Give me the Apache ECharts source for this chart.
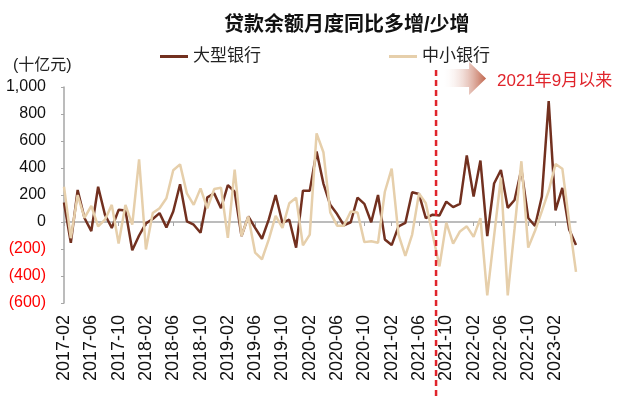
<!DOCTYPE html>
<html>
<head>
<meta charset="utf-8">
<script src="https://cdn.jsdelivr.net/npm/echarts@6/dist/echarts.min.js"></script>
<style>
  html, body { margin: 0; padding: 0; background: #fff; }
  #chart { width: 640px; height: 397px; }
</style>
</head>
<body>
<div id="chart"></div>
<script>
const months = [
  '2017-02','2017-03','2017-04','2017-05','2017-06','2017-07','2017-08','2017-09','2017-10','2017-11','2017-12',
  '2018-01','2018-02','2018-03','2018-04','2018-05','2018-06','2018-07','2018-08','2018-09','2018-10','2018-11','2018-12',
  '2019-01','2019-02','2019-03','2019-04','2019-05','2019-06','2019-07','2019-08','2019-09','2019-10','2019-11','2019-12',
  '2020-01','2020-02','2020-03','2020-04','2020-05','2020-06','2020-07','2020-08','2020-09','2020-10','2020-11','2020-12',
  '2021-01','2021-02','2021-03','2021-04','2021-05','2021-06','2021-07','2021-08','2021-09','2021-10','2021-11','2021-12',
  '2022-01','2022-02','2022-03','2022-04','2022-05','2022-06','2022-07','2022-08','2022-09','2022-10','2022-11','2022-12',
  '2023-01','2023-02','2023-03','2023-04','2023-05'
];

// 大型银行
const bigBanks = [
  144, -154, 237, 30, -68, 261, 54, -44, 90, 85, -210,
  -100, -10, 22, 66, -40, 78, 280, 5, -20, -80, 183, 212,
  102, 273, 224, -105, 41, -44, -124, 20, 200, -7, 17, -190,
  232, 232, 522, 285, 127, 59, -24, -2, 180, 134, -2, 200,
  -129, -171, -32, -7, 220, 207, 29, 54, 49, 151, 110, 134,
  493, 188, 455, -105, 285, 385, 105, 163, 390, 30, -30, 189,
  895, 86, 252, -55, -171
];

// 中小银行
const smallBanks = [
  261, -120, 200, 30, 120, -32, 17, 127, -159, 127, -20,
  464, -203, 66, 102, 176, 383, 427, 212, 127, 249, 102, 244,
  254, -117, 388, -105, 41, -227, -276, -129, 46, -44, 139, 180,
  -173, -93, 656, 517, 71, -27, -27, 78, 71, -149, -142, -154,
  224, 395, -93, -251, -93, 212, 139, -93, -329, -5, -160, -70,
  -32, -110, 29, -544, -105, 330, -544, -50, 450, -190, -65, 80,
  230, 430, 395, 0, -370
];

const yMin = -600, yMax = 1000, yStep = 200;
const sinceIdx = [54, 55]; // 2021年9月以来 的分界

const FONT = "'Liberation Sans', 'Noto Sans CJK SC', sans-serif";
const BROWN = '#72301f';
const TAN = '#e6cfab';
const AXIS = '#a6a6a6';
const RED = '#e0242b';

const chart = echarts.init(document.getElementById('chart'));

const option = {
  animation: false,
  textStyle: { fontFamily: FONT },
  title: {
    text: '贷款余额月度同比多增/少增',
    left: 219,
    top: 10,
    textStyle: { fontSize: 20, fontWeight: 'bold', color: '#111', fontFamily: FONT }
  },
  legend: {
    left: 155,
    top: 43,
    icon: 'rect',
    itemWidth: 28,
    itemHeight: 3,
    itemGap: 128,
    textStyle: { fontSize: 17, color: '#222' },
    data: ['大型银行', '中小银行']
  },
  grid: { left: 64, right: 64, top: 87, bottom: 94 },
  xAxis: [
    {
      type: 'category',
      data: months,
      boundaryGap: false,
      position: 'bottom',
      axisLine: { show: false, onZero: false },
      axisTick: { show: false },
      axisLabel: { interval: 3, rotate: 90, fontSize: 18, color: '#111', margin: 12 }
    },
    {
      type: 'category',
      data: months,
      boundaryGap: false,
      position: 'top',
      axisLine: { onZero: true, lineStyle: { color: AXIS, width: 1.5 } },
      axisTick: { show: true, inside: true, interval: 3, length: 4, lineStyle: { color: AXIS } },
      axisLabel: { show: false }
    }
  ],
  yAxis: {
    type: 'value',
    min: yMin,
    max: yMax,
    interval: yStep,
    axisLine: { show: true, lineStyle: { color: AXIS, width: 1.5 } },
    axisTick: { show: true, length: 3, lineStyle: { color: AXIS } },
    splitLine: { show: false },
    axisLabel: {
      fontSize: 16,
      margin: 18,
      color: function (v) { return v < 0 ? '#ff0000' : '#111'; },
      formatter: function (v) {
        const s = Math.abs(v).toLocaleString('en-US');
        return v < 0 ? '(' + s + ')' : s;
      }
    }
  },
  series: [
    {
      name: '大型银行',
      type: 'line',
      data: bigBanks,
      symbol: 'none',
      lineStyle: { color: BROWN, width: 2.5 },
      itemStyle: { color: BROWN }
    },
    {
      name: '中小银行',
      type: 'line',
      data: smallBanks,
      symbol: 'none',
      lineStyle: { color: TAN, width: 2.5 },
      itemStyle: { color: TAN }
    }
  ]
};

chart.setOption(option);

const xa = chart.convertToPixel({ xAxisIndex: 0 }, sinceIdx[0]);
const xb = chart.convertToPixel({ xAxisIndex: 0 }, sinceIdx[1]);
const lineX = (xa + xb) / 2;

chart.setOption({
  graphic: [
    {
      type: 'text',
      left: 13,
      top: 58,
      style: { text: '(十亿元)', fontSize: 16, fill: '#222', fontFamily: FONT }
    },
    {
      type: 'line',
      z: 10,
      shape: { x1: lineX, y1: 70, x2: lineX, y2: 397 },
      style: { stroke: RED, lineWidth: 2.5, lineDash: [6, 4] }
    },
    {
      type: 'polygon',
      z: 10,
      shape: {
        points: [
          [lineX + 6, 69], [lineX + 33, 69], [lineX + 33, 62], [lineX + 50, 78.5],
          [lineX + 33, 95], [lineX + 33, 87], [lineX + 6, 87]
        ]
      },
      style: {
        fill: new echarts.graphic.LinearGradient(0, 0, 1, 0, [
          { offset: 0, color: 'rgba(255,255,255,0)' },
          { offset: 1, color: '#c0644b' }
        ])
      }
    },
    {
      type: 'text',
      z: 10,
      left: lineX + 61,
      top: 73,
      style: { text: '2021年9月以来', fontSize: 17, fill: RED, fontFamily: FONT }
    }
  ]
});
</script>
</body>
</html>
